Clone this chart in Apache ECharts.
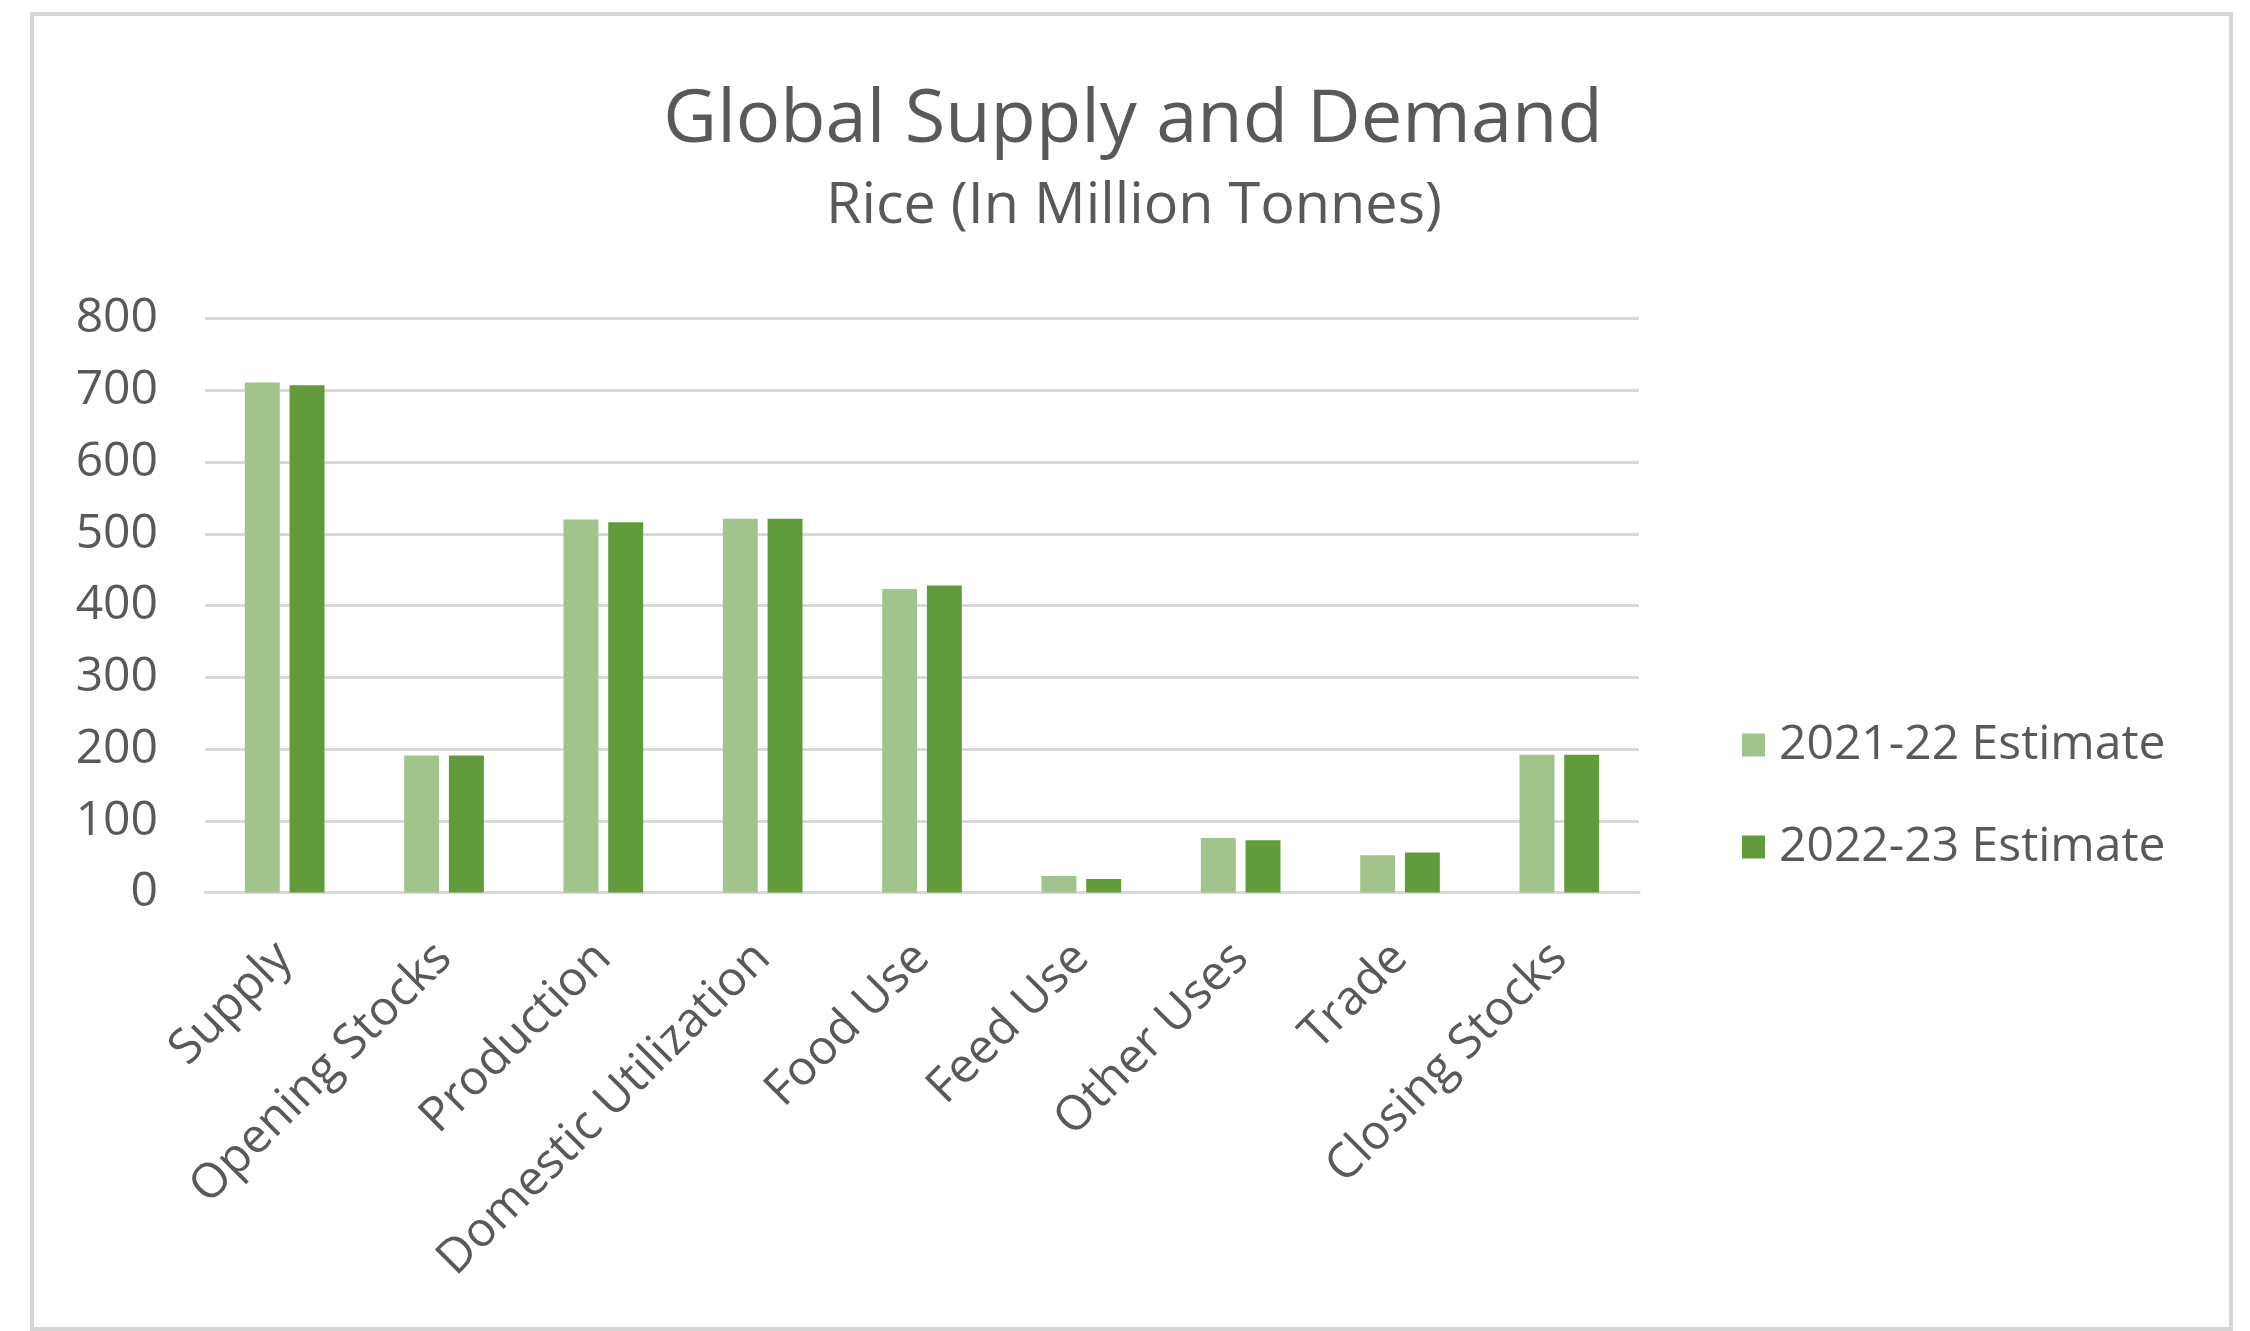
<!DOCTYPE html>
<html>
<head>
<meta charset="utf-8">
<script src="https://cdn.jsdelivr.net/npm/echarts@6/dist/echarts.min.js"></script>
<style>
html,body{margin:0;padding:0;background:#fff;}
#chart{width:2250px;height:1331px;}
</style>
</head>
<body>
<div id="chart"></div>
<script>
const categories = ['Supply','Opening Stocks','Production','Domestic Utilization','Food Use','Feed Use','Other Uses','Trade','Closing Stocks'];
const seriesNames = ['2021-22 Estimate','2022-23 Estimate'];
const est2021 = [711, 191, 520, 521, 423, 23, 76, 52, 192];
const est2022 = [707, 191, 516, 521, 428, 19, 73, 56, 192];
const yTicks = [0, 100, 200, 300, 400, 500, 600, 700, 800];

const FONT = '"Open Sans", "Noto Sans", sans-serif';
const TEXT = '#595959';
const GRID = '#d9d9d9';

const chart = echarts.init(document.getElementById('chart'));
chart.setOption({
  backgroundColor: '#ffffff',
  animation: false,
  graphic: [{
    type: 'rect',
    shape: {x: 32, y: 14, width: 2199, height: 1315},
    style: {fill: 'none', stroke: '#d6d6d6', lineWidth: 4}
  }],
  title: [{
    text: 'Global Supply and Demand',
    left: 1128, textAlign: 'center', top: 77,
    textStyle: {fontFamily: FONT, fontSize: 74, fontWeight: 'normal', color: TEXT, lineHeight: 78}
  }, {
    text: 'Rice (In Million Tonnes)',
    left: 1129, textAlign: 'center', top: 172,
    textStyle: {fontFamily: FONT, fontSize: 57.5, fontWeight: 'normal', color: TEXT, lineHeight: 60}
  }],
  legend: {
    orient: 'vertical',
    left: 1737, top: 710,
    itemWidth: 23, itemHeight: 23, itemGap: 42,
    icon: 'rect',
    data: seriesNames,
    textStyle: {fontFamily: FONT, fontSize: 48, color: TEXT, lineHeight: 60, padding: [0, 0, 0, 9]}
  },
  grid: {left: 205, right: 611, top: 318.6, bottom: 438.4, containLabel: false},
  xAxis: {
    type: 'category',
    data: categories,
    axisLine: {lineStyle: {color: GRID, width: 3}},
    axisTick: {show: false},
    axisLabel: {rotate: 45, interval: 0, margin: 58, fontFamily: FONT, fontSize: 48, color: TEXT}
  },
  yAxis: {
    type: 'value',
    min: yTicks[0], max: yTicks[yTicks.length - 1], interval: 100,
    axisLine: {show: false},
    axisTick: {show: false},
    splitLine: {lineStyle: {color: GRID, width: 3}},
    axisLabel: {margin: 47, fontFamily: FONT, fontSize: 48, color: TEXT}
  },
  series: [{
    name: seriesNames[0], type: 'bar', data: est2021,
    barGap: '28%', barCategoryGap: '50%',
    itemStyle: {color: '#a0c48c'}
  }, {
    name: seriesNames[1], type: 'bar', data: est2022,
    barGap: '28%', barCategoryGap: '50%',
    itemStyle: {color: '#629b3b'}
  }]
});
</script>
</body>
</html>
